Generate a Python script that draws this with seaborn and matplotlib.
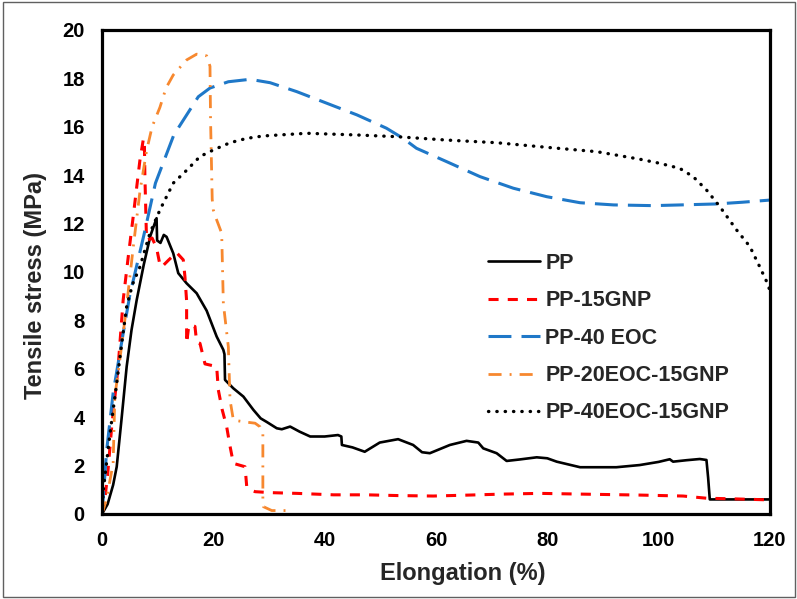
import numpy as np
import pandas as pd
import matplotlib
matplotlib.use("Agg")
import matplotlib.pyplot as plt
import seaborn as sns
from matplotlib.patches import Rectangle

# ---------------- data ----------------
pp_x = [0, 1.0, 2.0, 2.64, 3.5, 4.43, 5.3, 6.23, 7.5, 8.7, 9.8, 9.9, 10.5, 11.1, 11.6, 12.8, 13.7,
        15.2, 17.0, 18.8, 20.6, 21.8, 22.0, 22.1, 23.6, 25.4, 27.2, 28.5, 29.6, 31.4, 32.3, 33.8,
        35.5, 37.4, 40.0, 42.4, 43.0, 43.1, 45.0, 47.2, 49.9, 53.2, 55.9, 57.5, 58.9, 62.5, 65.5,
        67.6, 68.5, 70.9, 72.7, 75.0, 78.1, 80.0, 81.7, 85.9, 92.4, 96.6, 100.0, 102.0, 102.6,
        105.0, 107.4, 108.6, 108.9, 109.2, 115.0, 120.0]
pp_y = [0, 0.4, 1.2, 1.95, 3.9, 6.09, 7.6, 8.84, 10.3, 11.5, 12.22, 11.3, 11.2, 11.53, 11.45, 10.77,
        9.95, 9.53, 9.12, 8.4, 7.33, 6.78, 6.6, 5.54, 5.19, 4.85, 4.3, 3.95, 3.8, 3.54, 3.5, 3.61,
        3.4, 3.2, 3.2, 3.26, 3.2, 2.85, 2.75, 2.57, 2.95, 3.09, 2.85, 2.55, 2.51, 2.85, 3.02,
        2.95, 2.71, 2.51, 2.19, 2.25, 2.34, 2.3, 2.16, 1.93, 1.93, 2.02, 2.15, 2.26, 2.16,
        2.22, 2.27, 2.23, 1.5, 0.6, 0.6, 0.6]

gnp_x = [0, 0.5, 1.0, 1.74, 2.9, 3.8, 4.7, 5.6, 6.8, 7.4, 7.6, 7.7, 8.0, 9.0, 9.8, 10.4, 10.7,
         12.0, 13.4, 14.6, 14.9, 15.2, 15.2, 15.6, 16.7, 17.0, 17.6, 18.5, 20.6, 20.9, 21.6,
         22.4, 23.0, 23.6, 25.7, 26.0, 26.6, 27.5, 30.3, 35.0, 41.6, 47.5, 53.0, 59.5, 66.0,
         72.0, 78.7, 86.0, 96.6, 104.4, 108.6, 114.0, 120.0]
gnp_y = [0, 0.6, 1.6, 3.6, 6.09, 8.84, 10.6, 12.28, 14.6, 15.45, 15.5, 14.0, 11.3, 11.4, 11.0,
         10.3, 10.2, 10.5, 10.8, 10.5, 9.8, 8.8, 7.05, 7.8, 7.75, 7.1, 7.05, 6.2, 6.09, 5.12,
         4.3, 3.6, 2.8, 2.09, 1.95, 1.13, 1.0, 0.92, 0.88, 0.85, 0.79, 0.79, 0.76, 0.74, 0.78,
         0.82, 0.85, 0.82, 0.78, 0.74, 0.65, 0.62, 0.58]

eoc_x = [0, 0.84, 2.0, 3.8, 5.0, 7.5, 9.6, 12.9, 17.3, 19.4, 22.7, 26.6, 30.2, 35.0, 40.4, 45.8,
         51.1, 54.1, 56.5, 61.9, 67.9, 73.9, 79.9, 85.9, 91.9, 99.0, 104.0, 110.4, 115.0, 120.0]
eoc_y = [0, 2.64, 5.0, 7.46, 9.05, 11.5, 13.67, 15.66, 17.24, 17.6, 17.86, 17.96, 17.82, 17.45,
         16.97, 16.49, 15.94, 15.52, 15.11, 14.56, 13.94, 13.46, 13.11, 12.86, 12.77, 12.74,
         12.77, 12.81, 12.88, 12.97]

eg_x = [0, 0.8, 1.44, 2.0, 2.3, 3.2, 4.4, 5.6, 6.8, 8.0, 9.0, 10.4, 11.5, 12.8, 15.2, 17.0, 18.8,
        19.4, 19.5, 19.8, 20.0, 20.6, 21.5, 21.8, 22.7, 23.0, 23.6, 25.4, 27.5, 28.4, 28.9,
        28.9, 29.0, 30.5, 34.1]
eg_y = [0, 0.6, 1.4, 2.1, 4.85, 6.36, 8.57, 11.0, 13.3, 15.0, 16.0, 16.8, 17.6, 18.14, 18.76,
        19.0, 18.93, 18.5, 16.3, 13.0, 12.56, 12.15, 11.6, 8.7, 6.9, 4.71, 3.88, 3.81, 3.75,
        3.6, 3.33, 0.58, 0.3, 0.14, 0.14]

e40g_x = [0, 0.24, 1.44, 2.64, 3.54, 4.43, 5.5, 6.8, 8.6, 10.4, 12.8, 15.2, 17.6, 20.0, 23.0,
          26.0, 29.0, 36.8, 45.8, 52.9, 61.9, 70.9, 79.9, 88.9, 96.6, 100.2, 103.8, 106.2,
          108.6, 111.0, 114.0, 116.4, 118.2, 119.7, 120.0]
e40g_y = [0, 1.0, 3.33, 5.4, 7.05, 8.57, 9.5, 10.2, 11.6, 12.56, 13.67, 14.2, 14.77, 15.04, 15.34,
          15.52, 15.62, 15.73, 15.66, 15.59, 15.45, 15.34, 15.15, 14.97, 14.66, 14.49, 14.28,
          13.94, 13.39, 12.7, 11.74, 11.05, 10.2, 9.46, 9.2]

series_names = ["PP", "PP-15GNP", "PP-40 EOC", "PP-20EOC-15GNP", "PP-40EOC-15GNP"]
xticks = [0, 20, 40, 60, 80, 100, 120]
yticks = [0, 2, 4, 6, 8, 10, 12, 14, 16, 18, 20]

series_data = [(pp_x, pp_y), (gnp_x, gnp_y), (eoc_x, eoc_y), (eg_x, eg_y), (e40g_x, e40g_y)]

# ---------------- style ----------------
sns.set_style("white")
plt.rcParams['font.family'] = ['Liberation Sans', 'DejaVu Sans']
plt.rcParams['font.weight'] = 'bold'

styles = {
    "PP": dict(color="black", lw=1.9, ls="-"),
    "PP-15GNP": dict(color="#FF0000", lw=2.2, ls=(0, (3.3, 3.0))),
    "PP-40 EOC": dict(color="#1F78C8", lw=2.2, ls=(0, (7.5, 3.3))),
    "PP-20EOC-15GNP": dict(color="#F7882F", lw=2.0, ls=(0, (4.7, 2.9, 0.7, 2.9))),
    "PP-40EOC-15GNP": dict(color="black", lw=2.4, ls=(0, (0.1, 2.4))),
}

fig = plt.figure(figsize=(7.97, 5.99), dpi=100)
ax = fig.add_axes([0.128, 0.142, 0.838, 0.808])

for name, (xs, ys) in zip(series_names, series_data):
    df = pd.DataFrame({"x": xs, "y": ys})
    st = styles[name]
    sns.lineplot(data=df, x="x", y="y", ax=ax, sort=False, estimator=None,
                 color=st["color"], linewidth=st["lw"], linestyle=st["ls"], label=name)

ax.lines[4].set_dash_capstyle("round")

ax.set_xlim(0, 120)
ax.set_ylim(0, 20)
ax.set_xticks(xticks)
ax.set_yticks(yticks)
ax.tick_params(direction="inout", length=9, width=1.6, labelsize=14.5, pad=8, colors="black")
for lab in ax.get_xticklabels() + ax.get_yticklabels():
    lab.set_fontweight("bold")
for sp in ax.spines.values():
    sp.set_linewidth(2.3)
    sp.set_color("black")
    sp.set_visible(True)

ax.set_xlabel("Elongation (%)", fontsize=17, fontweight="bold")
ax.set_ylabel("Tensile stress (MPa)", fontsize=17, fontweight="bold")
ax.xaxis.set_label_coords(0.54, -0.099)
ax.yaxis.set_label_coords(-0.082, 0.471)

leg = ax.legend(loc="upper left", bbox_to_anchor=(488 / 797, 1 - 253 / 599),
                bbox_transform=fig.transFigure, frameon=False, borderpad=0, borderaxespad=0,
                handlelength=2.42, handletextpad=0.25, labelspacing=0.76,
                prop={"weight": "bold", "size": 15.5})
leg.get_lines()[4].set_dash_capstyle("round")

fig.patches.append(Rectangle((0.004, 0.004), 0.993, 0.992, transform=fig.transFigure,
                             fill=False, edgecolor="#606060", linewidth=1.0))

fig.savefig("out.png", dpi=100)
